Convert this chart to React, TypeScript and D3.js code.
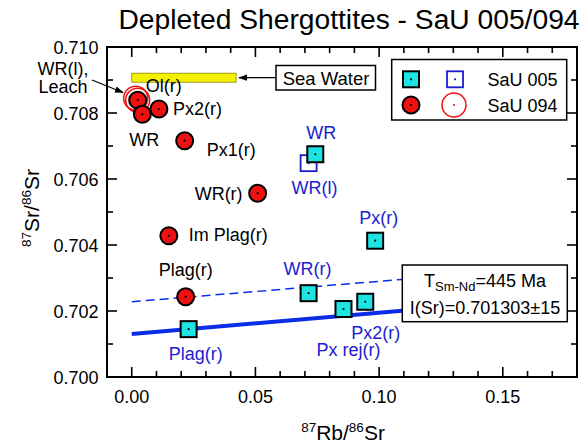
import React from "react";
import * as d3 from "d3";

// ---- data ----
const xTicksMajor = [0.0, 0.05, 0.1, 0.15];
const xTickLabels = ["0.00", "0.05", "0.10", "0.15"];
const yTicksMajor = [0.7, 0.702, 0.704, 0.706, 0.708, 0.71];
const yTickLabels = ["0.700", "0.702", "0.704", "0.706", "0.708", "0.710"];

const sau094Labels = ["Ol(r)", "WR", "Px2(r)", "Px1(r)", "WR(r)", "Im Plag(r)", "Plag(r)"];
const sau094X = [0.0024, 0.0043, 0.011, 0.0214, 0.0509, 0.015, 0.0218];
const sau094Y = [0.70839, 0.70796, 0.70812, 0.70716, 0.70557, 0.70428, 0.70243];

const sau094OpenLabels = ["WR(l)", "Leach"];
const sau094OpenX = [0.0016, 0.0024];
const sau094OpenY = [0.70845, 0.70839];

const sau005Labels = ["WR", "Px(r)", "WR(r)", "Px rej(r)", "Px2(r)", "Plag(r)"];
const sau005X = [0.0742, 0.0984, 0.0715, 0.0856, 0.0944, 0.023];
const sau005Y = [0.70675, 0.70413, 0.70254, 0.70206, 0.70228, 0.70145];

const sau005OpenLabels = ["WR(l)"];
const sau005OpenX = [0.0715];
const sau005OpenY = [0.70648];

const seaWaterX = [0.0, 0.0422];
const seaWaterY = 0.70907;

const isochronIntercept = 0.701303;
const isochronSlope = 0.00646;
const dashedIntercept = 0.70228;
const dashedSlope = 0.0062;
const lineXRange = [0.0, 0.1093];

// ---- styles / positions ----
const FONT = "Liberation Sans, Arial, Helvetica, sans-serif";
const BLUE = "#1c1ccf";
const LINEBLUE = "#0a2ee8";
const CYAN = "#1ee3e3";
const RED = "#ee1111";

const label094Off: Record<string, [number, number]> = {
  "Ol(r)": [8, -8],
  WR: [-13, 32],
  "Px2(r)": [14, 6],
  "Px1(r)": [22, 15],
  "WR(r)": [-63, 7],
  "Im Plag(r)": [20, 5],
  "Plag(r)": [-27, -21],
};
const label005Off: Record<string, [number, number]> = {
  WR: [-9, -15],
  "Px(r)": [-16, -17],
  "WR(r)": [-25, -18],
  "Px rej(r)": [-27, 47],
  "Px2(r)": [-14, 37],
  "Plag(r)": [-20, 31],
};

export default function App() {
  const W = 583,
    H = 444;
  const x = d3.scaleLinear().domain([-0.01, 0.18]).range([107, 577]);
  const y = d3.scaleLinear().domain([0.7, 0.71]).range([377, 47]);
  const [x0, x1] = x.range();
  const [y0, y1] = y.range();

  const xMinor = d3.range(-0.01, 0.1801, 0.01);
  const yMinor = d3.range(0.7, 0.71001, 0.001);
  const isMajX = (v: number) => xTicksMajor.some((m) => Math.abs(m - v) < 1e-6);
  const isMajY = (v: number) => yTicksMajor.some((m) => Math.abs(m - v) < 1e-7);

  const isoPath = (b: number, m: number) =>
    d3
      .line<number>()
      .x((d) => x(d))
      .y((d) => y(b + m * d))(lineXRange) as string;

  const tickEls: React.ReactNode[] = [];
  xMinor.forEach((v, i) => {
    const len = isMajX(v) ? 10 : 6;
    const px = x(v);
    tickEls.push(<line key={"xb" + i} x1={px} x2={px} y1={y0} y2={y0 - len} stroke="#000" strokeWidth={1.6} />);
    tickEls.push(<line key={"xt" + i} x1={px} x2={px} y1={y1} y2={y1 + len} stroke="#000" strokeWidth={1.6} />);
  });
  yMinor.forEach((v, i) => {
    const len = isMajY(v) ? 10 : 6;
    const py = y(v);
    tickEls.push(<line key={"yl" + i} x1={x0} x2={x0 + len} y1={py} y2={py} stroke="#000" strokeWidth={1.6} />);
    tickEls.push(<line key={"yr" + i} x1={x1} x2={x1 - len} y1={py} y2={py} stroke="#000" strokeWidth={1.6} />);
  });

  const sq = (cx: number, cy: number, key: string, filled: boolean) => (
    <g key={key}>
      <rect
        x={cx - 8}
        y={cy - 8}
        width={16}
        height={16}
        fill={filled ? CYAN : "none"}
        stroke={filled ? "#000" : BLUE}
        strokeWidth={filled ? 2 : 1.8}
      />
      <circle cx={cx} cy={cy} r={1.1} fill={filled ? "#000" : BLUE} />
    </g>
  );
  const circ = (cx: number, cy: number, key: string, filled: boolean) => (
    <g key={key}>
      <circle
        cx={cx}
        cy={cy}
        r={filled ? 8.5 : 12}
        fill={filled ? RED : "none"}
        stroke={filled ? "#000" : RED}
        strokeWidth={filled ? 2 : 1.5}
      />
      <circle cx={cx} cy={cy} r={1.1} fill={filled ? "#000" : RED} />
    </g>
  );

  const txt = { fontFamily: FONT, fontSize: 18 };

  return (
    <svg
      width={W}
      height={H}
      style={{ position: "absolute", left: 0, top: 0, background: "#fff" }}
      xmlns="http://www.w3.org/2000/svg"
    >
      <defs>
        <marker id="arr" viewBox="0 0 10 10" refX="9" refY="5" markerWidth="9" markerHeight="9" orient="auto-start-reverse" markerUnits="userSpaceOnUse">
          <path d="M0,1.5 L10,5 L0,8.5 Z" fill="#000" />
        </marker>
      </defs>
      <rect width={W} height={H} fill="#fff" />

      {/* title */}
      <text x={349} y={29} textAnchor="middle" fontFamily={FONT} fontSize={27} textLength={461} lengthAdjust="spacingAndGlyphs">
        Depleted Shergottites - SaU 005/094
      </text>

      {/* sea water */}
      <rect
        x={x(seaWaterX[0])}
        y={y(seaWaterY) - 4.5}
        width={x(seaWaterX[1]) - x(seaWaterX[0])}
        height={9}
        fill="#f5f000"
        stroke="#8a8a00"
        strokeWidth={0.8}
      />
      <line x1={276} y1={77.7} x2={239} y2={77.7} stroke="#000" strokeWidth={1.3} markerEnd="url(#arr)" />
      <rect x={276} y={65.5} width={99.5} height={24.5} fill="#fff" stroke="#000" strokeWidth={1.5} />
      <text x={326} y={84.5} textAnchor="middle" {...txt} fontSize={18.5}>
        Sea Water
      </text>

      {/* isochron lines */}
      <path d={isoPath(dashedIntercept, dashedSlope)} fill="none" stroke={LINEBLUE} strokeWidth={1.5} strokeDasharray="9,5" />
      <path d={isoPath(isochronIntercept, isochronSlope)} fill="none" stroke={LINEBLUE} strokeWidth={4} />

      {/* open red rings */}
      {sau094OpenX.map((v, i) => circ(x(v), y(sau094OpenY[i]), "or" + i, false))}
      {/* SaU 094 */}
      {sau094X.map((v, i) => circ(x(v), y(sau094Y[i]), "r" + i, true))}
      {/* SaU 005 open */}
      {sau005OpenX.map((v, i) => sq(x(v), y(sau005OpenY[i]), "ob" + i, false))}
      {/* SaU 005 */}
      {sau005X.map((v, i) => sq(x(v), y(sau005Y[i]), "b" + i, true))}

      {/* labels 094 */}
      {sau094Labels.map((l, i) => (
        <text key={"l94" + i} x={x(sau094X[i]) + label094Off[l][0]} y={y(sau094Y[i]) + label094Off[l][1]} {...txt} fill="#000">
          {l}
        </text>
      ))}
      {sau005Labels.map((l, i) => (
        <text key={"l05" + i} x={x(sau005X[i]) + label005Off[l][0]} y={y(sau005Y[i]) + label005Off[l][1]} {...txt} fill={BLUE}>
          {l}
        </text>
      ))}
      <text x={x(sau005OpenX[0]) - 17} y={y(sau005OpenY[0]) + 31} {...txt} fill={BLUE}>
        {sau005OpenLabels[0]}
      </text>
      <text x={63} y={75} textAnchor="middle" {...txt}>
        {sau094OpenLabels[0]},
      </text>
      <text x={63} y={93} textAnchor="middle" {...txt}>
        {sau094OpenLabels[1]}
      </text>
      <line x1={92} y1={80} x2={123} y2={92.5} stroke="#000" strokeWidth={1.3} markerEnd="url(#arr)" />

      {/* frame & ticks */}
      {tickEls}
      <rect x={x0} y={y1} width={x1 - x0} height={y0 - y1} fill="none" stroke="#000" strokeWidth={2} />

      {/* tick labels */}
      {xTicksMajor.map((v, i) => (
        <text key={"xl" + i} x={x(v)} y={403} textAnchor="middle" {...txt}>
          {xTickLabels[i]}
        </text>
      ))}
      {yTicksMajor.map((v, i) => (
        <text key={"yl" + i} x={98.5} y={y(v) + 7} textAnchor="end" {...txt}>
          {yTickLabels[i]}
        </text>
      ))}

      {/* axis titles */}
      <text x={343} y={440} textAnchor="middle" fontFamily={FONT} fontSize={21}>
        <tspan fontSize={13.5} dy={-8}>87</tspan>
        <tspan dy={8}>Rb/</tspan>
        <tspan fontSize={13.5} dy={-8}>86</tspan>
        <tspan dy={8}>Sr</tspan>
      </text>
      <text transform="translate(39,208) rotate(-90)" textAnchor="middle" fontFamily={FONT} fontSize={21}>
        <tspan fontSize={13.5} dy={-8}>87</tspan>
        <tspan dy={8}>Sr/</tspan>
        <tspan fontSize={13.5} dy={-8}>86</tspan>
        <tspan dy={8}>Sr</tspan>
      </text>

      {/* legend */}
      <rect x={391.7} y={59.5} width={175} height={60.5} fill="#fff" stroke="#000" strokeWidth={1.5} />
      {sq(411, 79.3, "lg1", true)}
      {sq(455, 79.3, "lg2", false)}
      <text x={557.5} y={85.5} textAnchor="end" {...txt}>
        SaU 005
      </text>
      {circ(411, 105, "lg3", true)}
      {circ(454, 105, "lg4", false)}
      <text x={557.5} y={111.5} textAnchor="end" {...txt}>
        SaU 094
      </text>

      {/* age box */}
      <rect x={402.3} y={265} width={165} height={56.7} fill="#fff" stroke="#000" strokeWidth={1.5} />
      <text x={485} y={287} textAnchor="middle" {...txt}>
        T<tspan fontSize={13} dy={4}>Sm-Nd</tspan>
        <tspan dy={-4}>=445 Ma</tspan>
      </text>
      <text x={485} y={314} textAnchor="middle" {...txt}>
        I(Sr)=0.701303±15
      </text>
    </svg>
  );
}
